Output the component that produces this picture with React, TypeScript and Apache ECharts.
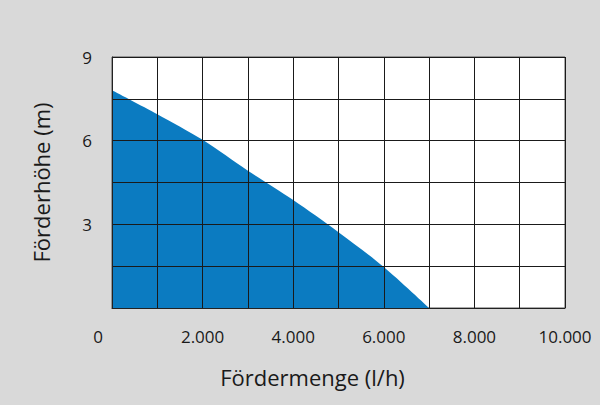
import React, { useEffect, useRef } from "react";
import * as echarts from "echarts";

const flowRates = [0, 1000, 2000, 3000, 4000, 5000, 6000, 7000];
const heads = [7.81, 6.95, 6.03, 4.92, 3.87, 2.72, 1.47, 0];
const xAxisTitle = "Fördermenge (l/h)";
const yAxisTitle = "Förderhöhe (m)";

function fmtThousands(v: number): string {
  if (v === 0) return "{z|0}";
  if (v % 2000 !== 0) return "";
  return v.toLocaleString("de-DE");
}

export default function App() {
  const ref = useRef<HTMLDivElement>(null);
  useEffect(() => {
    if (!ref.current) return;
    const chart = echarts.init(ref.current, null, { renderer: "svg" });
    const font = "'Open Sans', 'Noto Sans', sans-serif";
    const txt = "#1a1a1a";
    chart.setOption({
      animation: false,
      backgroundColor: "#d9d9d9",
      textStyle: { fontFamily: font },
      grid: {
        left: 112,
        right: 35,
        top: 57,
        bottom: 97,
        show: true,
        backgroundColor: "#ffffff",
        borderColor: "#555",
        borderWidth: 1,
      },
      xAxis: {
        type: "value",
        min: 0,
        max: 10000,
        interval: 1000,
        z: 5,
        axisLine: { show: true, lineStyle: { color: "#222", width: 1 } },
        axisTick: { show: false },
        splitLine: { show: true, lineStyle: { color: "#1a1a1a", width: 1 } },
        axisLabel: {
          color: txt,
          fontSize: 17,
          fontFamily: font,
          margin: 20,
          showMinLabel: true,
          showMaxLabel: true,
          formatter: (v: number) => fmtThousands(v),
          rich: { z: { padding: [0, 28, 0, 0], fontSize: 17, color: txt, fontFamily: font } },
        },
        name: xAxisTitle,
        nameLocation: "middle",
        nameGap: 58,
        nameTextStyle: { color: txt, fontSize: 22, fontFamily: font, padding: [0, 52, 0, 0] },
      },
      yAxis: {
        type: "value",
        min: 0,
        max: 9,
        interval: 1.5,
        z: 5,
        axisLine: { show: true, lineStyle: { color: "#222", width: 1 } },
        axisTick: { show: false },
        splitLine: { show: true, lineStyle: { color: "#1a1a1a", width: 1 } },
        axisLabel: {
          color: txt,
          fontSize: 17,
          fontFamily: font,
          margin: 20,
          formatter: (v: number) => (v !== 0 && v % 3 === 0 ? String(v) : ""),
        },
        name: yAxisTitle,
        nameLocation: "middle",
        nameGap: 60,
        nameTextStyle: { color: txt, fontSize: 22, fontFamily: font },
      },
      series: [
        {
          type: "line",
          data: flowRates.map((x, i) => [x, heads[i]]),
          smooth: 0.3,
          symbol: "none",
          lineStyle: { width: 0 },
          areaStyle: { color: "#0b7bc1", opacity: 1 },
          z: 2,
        },
      ],
    });
    return () => chart.dispose();
  }, []);
  return (
    <div
      ref={ref}
      style={{ position: "absolute", left: 0, top: 0, width: 600, height: 405 }}
    />
  );
}
